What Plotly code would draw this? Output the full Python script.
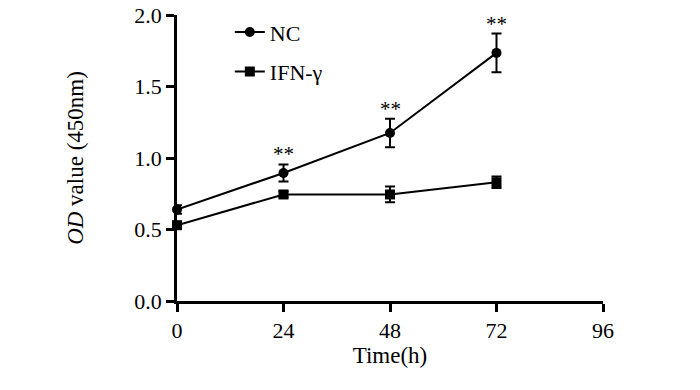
import plotly.graph_objects as go

time_h = [0, 24, 48, 72]
nc_mean = [0.64, 0.895, 1.175, 1.735]
nc_err = [0.03, 0.06, 0.10, 0.135]
ifn_mean = [0.53, 0.745, 0.745, 0.83]
ifn_err = [0.025, 0.02, 0.055, 0.04]
sig_labels = ["", "**", "**", "**"]
x_ticks = [0, 24, 48, 72, 96]
y_ticks = [0.0, 0.5, 1.0, 1.5, 2.0]

FONT = "Liberation Serif, Times New Roman, serif"

fig = go.Figure()
fig.add_trace(go.Scatter(
    x=time_h, y=nc_mean, name="NC", mode="lines+markers",
    line=dict(color="black", width=2),
    marker=dict(symbol="circle", size=10, color="black"),
    error_y=dict(type="data", array=nc_err, color="black", thickness=2, width=5),
    legendgroup="a", cliponaxis=False,
))
fig.add_trace(go.Scatter(
    x=time_h, y=ifn_mean, name="IFN-γ", mode="lines+markers",
    line=dict(color="black", width=2),
    marker=dict(symbol="square", size=10, color="black"),
    error_y=dict(type="data", array=ifn_err, color="black", thickness=2, width=5),
    legendgroup="b", cliponaxis=False,
))

for x, m, e, s in zip(time_h, nc_mean, nc_err, sig_labels):
    if s:
        fig.add_annotation(x=x, y=m + e, text=s, showarrow=False, yanchor="bottom",
                           yshift=-4, font=dict(family=FONT, size=21, color="black"))

fig.update_layout(
    width=700, height=390,
    margin=dict(l=177, r=97, t=14, b=89),
    paper_bgcolor="white", plot_bgcolor="white",
    font=dict(family=FONT, size=22, color="black"),
    showlegend=True,
    legend=dict(x=0.124, y=1.01, xanchor="left", yanchor="top",
                bgcolor="rgba(0,0,0,0)", font=dict(family=FONT, size=22, color="black"),
                traceorder="grouped", tracegroupgap=8, itemwidth=30),
    xaxis=dict(range=[0, 96], tickvals=x_ticks, ticktext=[str(v) for v in x_ticks],
               showgrid=False, zeroline=False, showline=True, linecolor="black",
               linewidth=2.5, ticks="outside", ticklen=8, tickwidth=2.5, tickcolor="black",
               automargin=False,
               title=dict(text="Time(h)", font=dict(family=FONT, size=23, color="black"), standoff=3),
               tickfont=dict(family=FONT, size=22, color="black")),
    yaxis=dict(range=[0, 2], tickvals=y_ticks, ticktext=[f"{v:.1f}" for v in y_ticks],
               showgrid=False, zeroline=False, showline=True, linecolor="black",
               linewidth=2.5, ticks="outside", ticklen=8, tickwidth=2.5, tickcolor="black",
               automargin=False,
               title=dict(text="<i>OD</i> value (450nm)", font=dict(family=FONT, size=23, color="black"), standoff=45),
               tickfont=dict(family=FONT, size=22, color="black")),
)

fig.write_html("out.html", config={"displayModeBar": False},
               post_script="document.body.style.margin='0';")
